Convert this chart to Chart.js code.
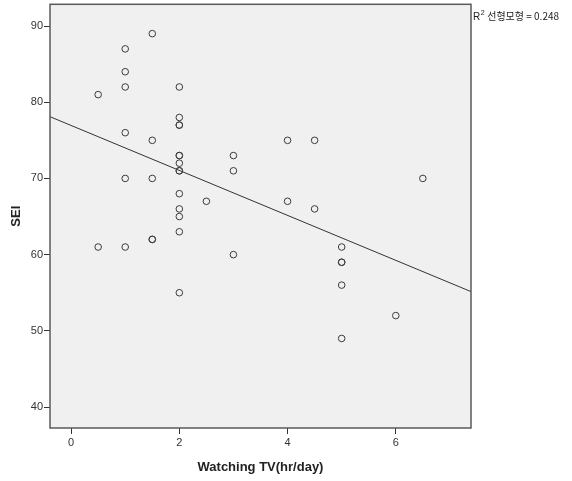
<!DOCTYPE html>
<html>
<head>
<meta charset="utf-8">
<script src="https://cdn.jsdelivr.net/npm/chart.js@4/dist/chart.umd.min.js"></script>
<style>
  html, body { margin: 0; padding: 0; background: #ffffff; }
  #wrap { width: 572px; height: 481px; }
</style>
</head>
<body>
<div id="wrap"><canvas id="c" width="572" height="481"></canvas></div>
<script>
// ---- data ----
const tvHours = [0.5, 0.5,
  1, 1, 1, 1, 1, 1,
  1.5, 1.5, 1.5, 1.5, 1.5,
  2, 2, 2, 2, 2, 2, 2, 2, 2, 2, 2, 2, 2, 2,
  2.5,
  3, 3, 3,
  4, 4,
  4.5, 4.5,
  5, 5, 5, 5, 5,
  6,
  6.5];
const seiScores = [81, 61,
  87, 84, 82, 76, 70, 61,
  89, 75, 70, 62, 62,
  82, 78, 77, 77, 73, 73, 72, 71, 71, 68, 66, 65, 63, 55,
  67,
  73, 71, 60,
  75, 67,
  75, 66,
  61, 59, 59, 56, 49,
  52,
  70];
const fitIntercept = 76.95;
const fitSlope = -2.95;
const rSquared = 0.248;
const xTickValues = [0, 2, 4, 6];
const yTickValues = [40, 50, 60, 70, 80, 90];
const xRange = [-0.39, 7.39];
const yRange = [37.25, 92.85];
const xTitle = 'Watching TV(hr/day)';
const yTitle = 'SEI';
const fitLabel = '선형모형 = ' + rSquared.toFixed(3);

const points = tvHours.map((x, i) => ({ x: x, y: seiScores[i] }));
const fitLine = xRange.map(x => ({ x: x, y: fitIntercept + fitSlope * x }));

const frame = {
  id: 'frame',
  beforeDatasetsDraw(chart) {
    const { ctx, chartArea: a } = chart;
    ctx.save();
    ctx.fillStyle = '#f0f0f0';
    ctx.fillRect(a.left, a.top, a.right - a.left, a.bottom - a.top);
    ctx.restore();
  },
  afterDatasetsDraw(chart) {
    const { ctx, chartArea: a } = chart;
    ctx.save();
    ctx.strokeStyle = '#5a5a5a';
    ctx.lineWidth = 1.5;
    ctx.strokeRect(a.left, a.top, a.right - a.left, a.bottom - a.top);
    // fit label to the right of the plot
    const x0 = a.right + 2;
    const base = a.top + 16;
    ctx.fillStyle = '#222';
    ctx.textBaseline = 'alphabetic';
    ctx.font = '10px "Liberation Sans", Arial, sans-serif';
    ctx.fillText('R', x0, base);
    const wR = ctx.measureText('R').width;
    ctx.font = '7px "Liberation Sans", Arial, sans-serif';
    ctx.fillText('2', x0 + wR + 0.5, base - 5);
    ctx.font = '10px "Noto Sans CJK KR", "Liberation Sans", sans-serif';
    ctx.fillText(fitLabel, x0 + wR + 7, base);
    ctx.restore();
  }
};

const tickFont = { family: '"Liberation Sans", Arial, sans-serif', size: 11 };
const titleFont = { family: '"Liberation Sans", Arial, sans-serif', size: 13, weight: 'bold' };

new Chart(document.getElementById('c'), {
  type: 'scatter',
  data: {
    datasets: [
      {
        data: points,
        pointStyle: 'circle',
        pointRadius: 3.3,
        pointBorderWidth: 1,
        borderColor: '#3c3c3c',
        backgroundColor: 'rgba(0,0,0,0)',
        pointHoverRadius: 3.3
      },
      {
        type: 'line',
        data: fitLine,
        borderColor: '#333333',
        borderWidth: 1,
        pointRadius: 0,
        fill: false
      }
    ]
  },
  plugins: [frame],
  options: {
    responsive: false,
    animation: false,
    devicePixelRatio: 1,
    layout: { padding: { top: 3, right: 101, bottom: 0, left: 0 } },
    plugins: { legend: { display: false }, tooltip: { enabled: false } },
    scales: {
      x: {
        type: 'linear',
        min: xRange[0],
        max: xRange[1],
        afterBuildTicks(s) { s.ticks = xTickValues.map(v => ({ value: v })); },
        afterFit(s) { s.height = 53; s.paddingLeft = 0; s.paddingRight = 0; },
        grid: { drawOnChartArea: false, drawTicks: true, tickLength: 6, color: '#333', lineWidth: 1 },
        border: { display: false },
        ticks: { font: tickFont, color: '#333', padding: 2, maxRotation: 0 },
        title: { display: true, text: xTitle, font: titleFont, color: '#222', padding: { top: 0, bottom: 6 } }
      },
      y: {
        type: 'linear',
        min: yRange[0],
        max: yRange[1],
        afterBuildTicks(s) { s.ticks = yTickValues.map(v => ({ value: v })); },
        afterFit(s) { s.width = 50; s.paddingTop = 0; s.paddingBottom = 0; },
        grid: { drawOnChartArea: false, drawTicks: true, tickLength: 6, color: '#333', lineWidth: 1 },
        border: { display: false },
        ticks: { font: tickFont, color: '#333', padding: 1 },
        title: { display: true, text: yTitle, font: titleFont, color: '#222', padding: { top: 9, bottom: 0 } }
      }
    }
  }
});
</script>
</body>
</html>
